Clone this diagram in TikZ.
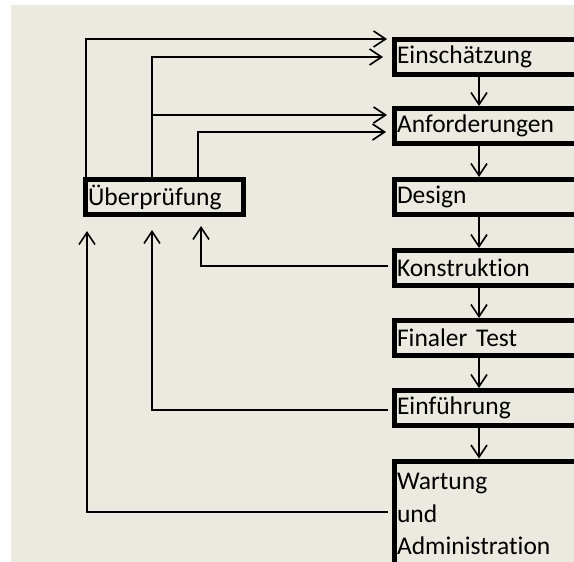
\documentclass[tikz,border=0pt]{standalone}
\usepackage{fontspec}
\setmainfont{Carlito}[Ligatures=NoCommon]
\usetikzlibrary{arrows.meta}
\definecolor{paper}{RGB}{236,234,224}
\begin{document}
\begin{tikzpicture}[x=1pt,y=-1pt,
  stage/.style={draw, line width=5pt, inner sep=0pt, outer sep=0pt, inner xsep=2.5pt,
    text width=200pt, align=left, minimum height=35pt, anchor=north west,
    font=\fontsize{25.5}{32.5}\selectfont},
  review/.style={stage, line width=4.5pt, text width=153pt},
  link/.style={line width=1.6pt},
  flow/.style={link, -{Straight Barb[length=12pt,width=16pt]}},
]
\useasboundingbox (0,0) rectangle (574,562);
\clip (0,0) rectangle (574,562);
\fill[paper] (11,5) rectangle (574,562);

% process stages (right column, running off the page edge)
\node[stage] (ein)  at (394.5,39.5)  {Einschätzung};
\node[stage] (anf)  at (394.5,108.5) {Anforderungen};
\node[stage] (des)  at (394.5,179.5) {Design};
\node[stage] (kon)  at (394.5,250.5) {Konstruktion};
\node[stage] (fin)  at (394.5,320.5) {Finaler Test};
\node[stage] (einf) at (394.5,390.5) {Einführung};
\node[stage, minimum height=106pt] (war) at (394.5,461) {Wartung\\und\\Administration};

% review box
\node[review] (ueb) at (85.5,179.5) {Überprüfung};

% helper positions
\coordinate (xa) at (86,0);
\coordinate (xb) at (152,0);
\coordinate (xc) at (198,0);
\coordinate (ya) at (0,39);
\coordinate (yb) at (0,57);
\coordinate (yc) at (0,115);
\coordinate (yd) at (0,132);
\coordinate (xe) at (87,0);
\coordinate (xf) at (152,0);
\coordinate (xg) at (201,0);
\coordinate (ye) at (0,512);
\coordinate (yf) at (0,410);
\coordinate (yg) at (0,266);
\coordinate (xcol) at (479,0);

% feedback from review to the early stages
\draw[flow, shorten >=7.5pt]  (ueb.north -| xa) |- (ein.west |- ya);
\draw[flow, shorten >=11.5pt] (ueb.north -| xb) |- (ein.west |- yb);
\draw[flow, shorten >=7.5pt]  (xb |- yc) -- (anf.west |- yc);
\draw[flow, shorten >=8.5pt]  (ueb.north -| xc) |- (anf.west |- yd);

% later stages report back to review
\draw[flow, shorten <=6.5pt, shorten >=16.5pt] (war.west |- ye) -| (ueb.south -| xe);
\draw[flow, shorten <=6.5pt, shorten >=15.5pt] (einf.west |- yf) -| (ueb.south -| xf);
\draw[flow, shorten <=6.5pt, shorten >=11.5pt] (kon.west |- yg) -| (ueb.south -| xg);

% main sequence
\foreach \a/\b in {ein/anf, anf/des, des/kon, kon/fin, fin/einf, einf/war}
  \draw[flow, shorten >=2.5pt] (\a.south -| xcol) -- (\b.north -| xcol);
\end{tikzpicture}
\end{document}
